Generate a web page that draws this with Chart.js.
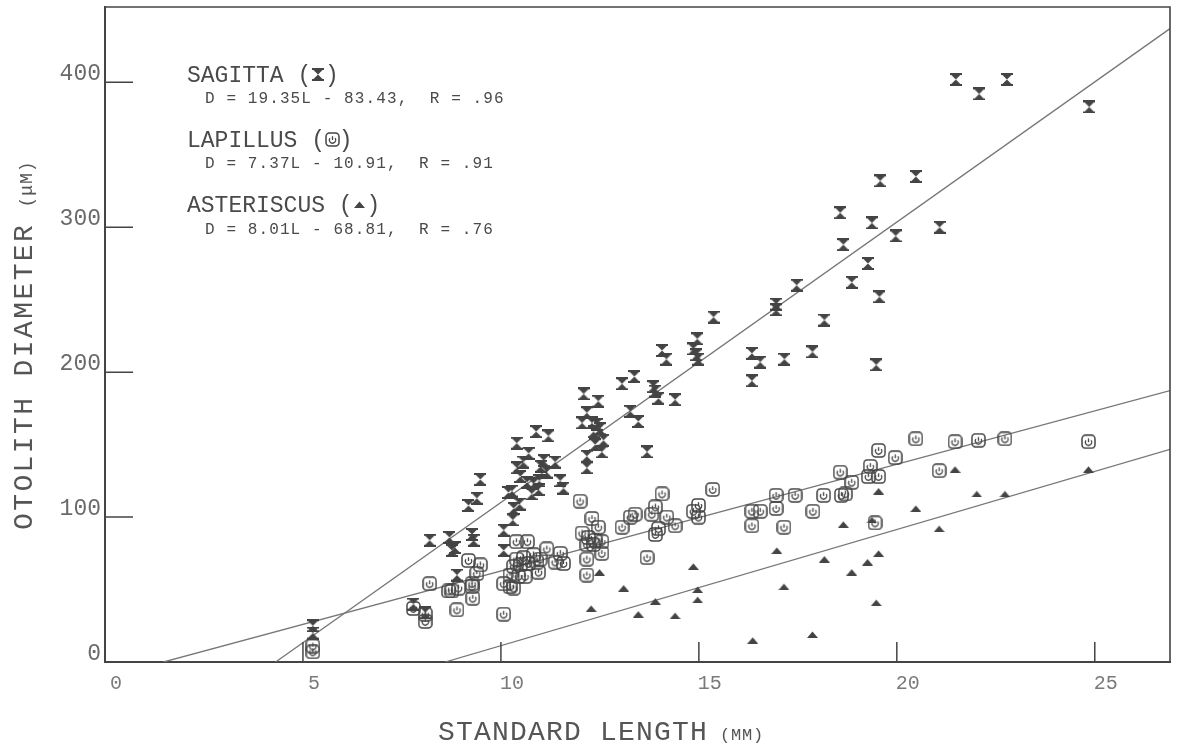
<!DOCTYPE html>
<html>
<head>
<meta charset="utf-8">
<title>Otolith diameter vs standard length</title>
<script src="https://cdn.jsdelivr.net/npm/chart.js@4.4.1/dist/chart.umd.min.js"></script>
<style>
    html, body { margin: 0; padding: 0; background: #fff; }
    #wrap { width: 1178px; height: 746px; }
</style>
</head>
<body>
<div id="wrap"><canvas id="myChart" width="1178" height="746"></canvas></div>
<script>
/** 刻度 */
var xTicks = [0, 5, 10, 15, 20, 25]
var yTicks = [0, 100, 200, 300, 400]

/** SAGITTA [L, D] */
var sagittaPoints = [
    [5.25, 25], [5.25, 20],
    [7.79, 40], [8.09, 34], [8.20, 84], [8.70, 86], [8.76, 77], [8.84, 79], [8.89, 60],
    [9.18, 108], [9.27, 88], [9.31, 84], [9.39, 113], [9.48, 126],
    [10.07, 91], [10.07, 77], [10.19, 117], [10.28, 118], [10.30, 98], [10.32, 106], [10.47, 109],
    [10.40, 151], [10.40, 134], [10.49, 128], [10.57, 138], [10.66, 124], [10.70, 144], [10.78, 116],
    [10.82, 123], [10.89, 159], [10.95, 119], [10.97, 125], [11.00, 135], [11.08, 139], [11.16, 131],
    [11.20, 156], [11.37, 138], [11.50, 125], [11.58, 120],
    [12.05, 165], [12.09, 185], [12.46, 180], [12.17, 172], [12.30, 165], [12.42, 164], [12.50, 161],
    [12.34, 159], [12.59, 153], [12.38, 150], [12.55, 145], [12.17, 142], [12.17, 134],
    [13.06, 192], [13.37, 197], [13.27, 173], [13.47, 166], [13.69, 145], [13.85, 190], [13.90, 187],
    [13.98, 182], [14.40, 181],
    [14.07, 215], [14.18, 209], [14.86, 216], [14.94, 212], [14.98, 209], [14.96, 223], [15.37, 238],
    [16.34, 213], [16.55, 207], [16.34, 194], [16.95, 247], [16.95, 243], [17.16, 209], [17.47, 260],
    [17.87, 214], [18.17, 236], [18.57, 310], [18.65, 288], [18.86, 262], [19.27, 275], [19.37, 303],
    [19.48, 205], [19.56, 252], [19.58, 332], [19.97, 294], [20.48, 335], [21.08, 300],
    [21.49, 402], [22.08, 392], [22.78, 402], [24.86, 383]
]

/** LAPILLUS [L, D] */
var lapillusPoints = [
    [5.25, 11], [5.25, 7],
    [7.79, 37], [8.09, 33], [8.09, 28], [8.20, 54], [8.68, 49], [8.76, 49], [8.89, 36], [8.93, 51],
    [9.18, 70], [9.27, 54], [9.27, 52], [9.29, 44], [9.39, 61], [9.48, 67],
    [10.07, 33], [10.07, 54], [10.23, 52], [10.32, 51], [10.23, 60], [10.32, 66], [10.39, 83],
    [10.40, 71], [10.44, 59], [10.49, 67], [10.57, 72], [10.61, 59], [10.67, 83], [10.70, 68],
    [10.82, 74], [10.91, 69], [10.95, 62], [10.99, 71], [11.16, 78], [11.37, 69], [11.50, 75], [11.58, 68],
    [12.00, 111], [12.05, 89], [12.21, 86], [12.38, 84], [12.55, 83], [12.17, 81], [12.34, 81],
    [12.30, 99], [12.46, 93], [12.17, 71], [12.55, 75], [12.17, 60],
    [13.06, 93], [13.27, 100], [13.39, 102], [13.69, 72], [13.81, 102], [13.90, 107], [13.90, 88],
    [13.98, 92], [14.07, 116], [14.19, 100], [14.40, 94],
    [14.86, 104], [14.99, 108], [14.99, 100], [15.35, 119],
    [16.34, 104], [16.55, 104], [16.34, 94], [16.95, 115], [16.95, 106], [17.15, 93], [17.43, 115],
    [17.88, 104], [18.15, 115], [18.57, 131], [18.60, 115], [18.70, 116], [18.86, 124], [19.28, 128],
    [19.33, 135], [19.45, 96], [19.54, 128], [19.54, 146], [19.96, 141], [20.48, 154], [21.07, 132],
    [21.47, 152], [22.06, 153], [22.73, 154], [24.84, 152]
]

/** ASTERISCUS [L, D] */
var asteriscusPoints = [
    [12.28, 37], [12.49, 62], [13.10, 51], [13.47, 33], [13.90, 42], [14.40, 32], [14.86, 66],
    [14.97, 50], [14.97, 43], [16.36, 15], [16.97, 77], [17.15, 52], [17.87, 19], [18.17, 71],
    [18.65, 95], [18.86, 62], [19.26, 69], [19.37, 98], [19.48, 41], [19.54, 118], [19.54, 75],
    [20.48, 106], [21.07, 92], [21.47, 133], [22.02, 116], [22.73, 116], [24.84, 133]
]

/** 回归线端点 */
var sagittaFit = [[4.31, 0], [26.9, 437.1]]
var lapillusFit = [[1.48, 0], [26.9, 187.3]]
var asteriscusFit = [[8.59, 0], [26.9, 146.7]]

/** 图例文字 */
var legendRows = [
    { name: 'SAGITTA (', eq: 'D = 19.35L - 83.43,  R = .96', marker: 'sagitta' },
    { name: 'LAPILLUS (', eq: 'D = 7.37L - 10.91,  R = .91', marker: 'lapillus' },
    { name: 'ASTERISCUS (', eq: 'D = 8.01L - 68.81,  R = .76', marker: 'asteriscus' }
]
var xTitle = 'STANDARD LENGTH'
var xUnit = '(MM)'
var yTitle = 'OTOLITH DIAMETER'
var yUnit = '(μM)'

var otolith = {
    ink: '#444',
    font: '"Liberation Mono", "DejaVu Sans Mono", monospace',
    markers: {},
    init: function () {
        otolith.funcs.makeMarkers()
        otolith.funcs.createChart()
    },
    funcs: {
        toXY: function (arr) {
            return arr.map(function (p) { return { x: p[0], y: p[1] } })
        },
        newCanvas: function (w, h) {
            var c = document.createElement('canvas')
            c.width = w
            c.height = h
            return c
        },
        /** 三种符号 */
        makeMarkers: function () {
            var ink = otolith.ink
            // 沙漏形 (sagitta)
            var s = otolith.funcs.newCanvas(12, 13)
            var g = s.getContext('2d')
            g.fillStyle = ink
            g.fillRect(0, 0, 12, 2)
            g.fillRect(0, 11, 12, 2)
            g.beginPath()
            g.moveTo(1.5, 2); g.lineTo(10.5, 2); g.lineTo(6, 6.5); g.closePath()
            g.moveTo(6, 6.5); g.lineTo(10.5, 11); g.lineTo(1.5, 11); g.closePath()
            g.fill()
            otolith.markers.sagitta = s

            // 圆角方框 (lapillus)
            var l = otolith.funcs.newCanvas(15, 15)
            g = l.getContext('2d')
            g.strokeStyle = ink
            g.lineWidth = 1.5
            g.beginPath()
            g.roundRect(1, 1, 13, 13, 3.5)
            g.stroke()
            g.lineWidth = 1.3
            g.beginPath()
            g.arc(7.5, 8, 3.2, -Math.PI * 0.2, Math.PI * 1.2)
            g.stroke()
            g.beginPath()
            g.moveTo(7.5, 4.2); g.lineTo(7.5, 8)
            g.stroke()
            otolith.markers.lapillus = l

            // 三角 (asteriscus)
            var a = otolith.funcs.newCanvas(11, 7)
            g = a.getContext('2d')
            g.fillStyle = ink
            g.beginPath()
            g.moveTo(0, 7); g.lineTo(11, 7); g.lineTo(5.5, 0.5); g.closePath()
            g.fill()
            otolith.markers.asteriscus = a
        },
        text: function (ctx, str, x, y, size, spacing) {
            ctx.font = size + 'px ' + otolith.font
            ctx.letterSpacing = spacing + 'px'
            ctx.fillText(str, x, y)
            return size * 0.6 + spacing
        },
        /** 图内框线、内侧刻度、图例和坐标轴标题 */
        decorPlugin: {
            id: 'decor',
            afterDraw: function (chart) {
                var ctx = chart.ctx
                var area = chart.chartArea
                var xs = chart.scales.x
                var ys = chart.scales.y
                var text = otolith.funcs.text
                ctx.save()
                ctx.strokeStyle = otolith.ink
                ctx.lineWidth = 1.6
                ctx.beginPath()
                ctx.moveTo(area.left, area.top); ctx.lineTo(area.right, area.top); ctx.lineTo(area.right, area.bottom)
                ctx.stroke()
                ctx.lineWidth = 1.5
                ctx.beginPath()
                yTicks.forEach(function (v) {
                    if (v === 0) return
                    var py = ys.getPixelForValue(v)
                    ctx.moveTo(area.left, py); ctx.lineTo(area.left + 28, py)
                })
                xTicks.forEach(function (v) {
                    if (v === 0) return
                    var px = xs.getPixelForValue(v)
                    ctx.moveTo(px, area.bottom); ctx.lineTo(px, area.bottom - 20)
                })
                ctx.stroke()

                /** 图例 */
                ctx.fillStyle = '#4a4a4a'
                ctx.textBaseline = 'alphabetic'
                ctx.textAlign = 'left'
                var baselines = [[82, 103], [147, 168], [212, 234]]
                legendRows.forEach(function (row, i) {
                    var adv = text(ctx, row.name, 187, baselines[i][0], 23, 0)
                    var mx = 187 + row.name.length * adv
                    var m = otolith.markers[row.marker]
                    ctx.drawImage(m, Math.round(mx + 7 - m.width / 2), Math.round(baselines[i][0] - 8 - m.height / 2))
                    text(ctx, ')', mx + adv, baselines[i][0], 23, 0)
                    text(ctx, row.eq, 205, baselines[i][1], 16, 1.1)
                })

                /** 坐标轴标题 */
                ctx.fillStyle = '#555'
                var tadv = text(ctx, xTitle, 438, 740, 28, 1.2)
                text(ctx, xUnit, 438 + (xTitle.length + 1) * tadv - 6, 740, 17, 0.8)
                ctx.translate(32, 530)
                ctx.rotate(-Math.PI / 2)
                var yadv = text(ctx, yTitle, 0, 0, 28, 2.4)
                text(ctx, yUnit, (yTitle.length + 1) * yadv - 4, 0, 18, 1)
                ctx.restore()
            }
        },
        scatterSet: function (label, points, marker) {
            return {
                label: label,
                data: otolith.funcs.toXY(points),
                pointStyle: otolith.markers[marker],
                pointRadius: 6,
                showLine: false,
                order: 1
            }
        },
        fitSet: function (label, points) {
            return {
                label: label,
                data: otolith.funcs.toXY(points),
                showLine: true,
                borderColor: '#777',
                borderWidth: 1.3,
                pointRadius: 0,
                fill: false,
                order: 2
            }
        },
        createChart: function () {
            var f = otolith.funcs
            var ctx = document.getElementById('myChart').getContext('2d')
            var myChart = new Chart(ctx, {
                type: 'scatter',
                data: {
                    datasets: [
                        f.fitSet('sagitta fit', sagittaFit),
                        f.fitSet('lapillus fit', lapillusFit),
                        f.fitSet('asteriscus fit', asteriscusFit),
                        f.scatterSet('SAGITTA', sagittaPoints, 'sagitta'),
                        f.scatterSet('LAPILLUS', lapillusPoints, 'lapillus'),
                        f.scatterSet('ASTERISCUS', asteriscusPoints, 'asteriscus')
                    ]
                },
                options: {
                    responsive: false,
                    animation: false,
                    layout: { padding: { top: 5, right: 8, left: 0, bottom: 0 } },
                    plugins: { legend: { display: false }, tooltip: { enabled: false } },
                    scales: {
                        x: {
                            type: 'linear',
                            min: 0,
                            max: 26.9,
                            afterBuildTicks: function (s) { s.ticks = xTicks.map(function (v) { return { value: v } }) },
                            afterFit: function (s) {
                                s.height = 84
                                s.paddingLeft = 0
                                s.paddingRight = 0
                            },
                            grid: { display: false, drawTicks: false },
                            border: { display: true, color: otolith.ink, width: 2 },
                            ticks: {
                                font: { family: otolith.font, size: 20 },
                                color: '#7a7a7a',
                                padding: 10,
                                labelOffset: 11,
                                maxRotation: 0,
                                autoSkip: false
                            }
                        },
                        y: {
                            type: 'linear',
                            min: 0,
                            max: 452,
                            afterBuildTicks: function (s) { s.ticks = yTicks.map(function (v) { return { value: v } }) },
                            afterFit: function (s) {
                                s.width = 105
                                s.paddingTop = 0
                                s.paddingBottom = 0
                            },
                            grid: { display: false, drawTicks: false },
                            border: { display: true, color: otolith.ink, width: 2 },
                            ticks: {
                                font: { family: otolith.font, size: 23 },
                                color: '#6a6a6a',
                                padding: 4,
                                labelOffset: -8,
                                autoSkip: false
                            }
                        }
                    }
                },
                plugins: [f.decorPlugin]
            })
        }
    }
}

otolith.init()
</script>
</body>
</html>
